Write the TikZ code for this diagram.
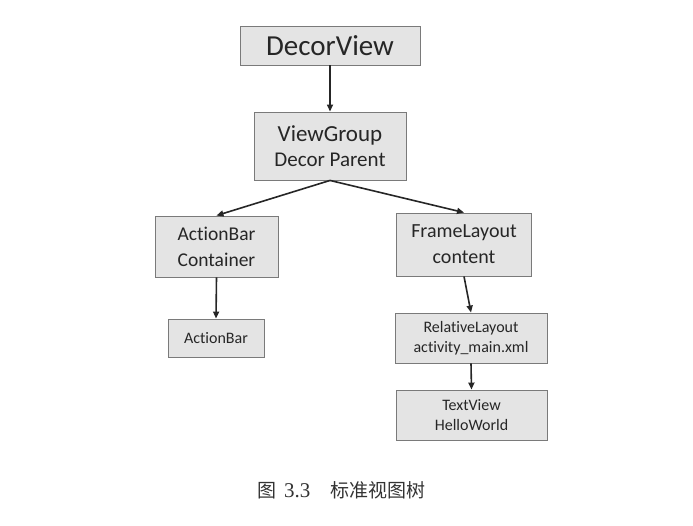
\documentclass[tikz,border=0pt]{standalone}
\usepackage{fontspec}
\setmainfont{Carlito}[Ligatures=NoCommon]
\newfontfamily\cjk{Noto Sans CJK SC}
\newfontfamily\capserif{Liberation Serif}
\usetikzlibrary{arrows.meta}
\definecolor{boxfill}{HTML}{E4E4E4}
\definecolor{boxline}{HTML}{7A7A7A}
\definecolor{txt}{HTML}{262626}
\tikzset{
  treebox/.style={draw=boxline, fill=boxfill, line width=0.9pt, text=txt, align=center, inner sep=0pt},
  conn/.style={line width=1.6pt, -{Triangle[length=7pt,width=6pt]}, black!85}
}
\begin{document}
\begin{tikzpicture}[x=1pt,y=-1pt]
\useasboundingbox (0,0) rectangle (693,526);
\node[treebox, minimum width=180pt, minimum height=39pt, font=\fontsize{29}{32}\selectfont] (dv) at (330,45.5)
  {DecorView};
\node[treebox, minimum width=152pt, minimum height=68pt, font=\fontsize{21}{25}\selectfont] (vg) at (330,146)
  {{\fontsize{23}{25}\selectfont ViewGroup}\\Decor Parent};
\node[treebox, minimum width=123pt, minimum height=61pt, font=\fontsize{19.5}{26}\selectfont] (abc) at (216.5,246.5)
  {ActionBar\\Container};
\node[treebox, minimum width=135pt, minimum height=63pt, font=\fontsize{20}{26}\selectfont] (fl) at (464,244.5)
  {FrameLayout\\content};
\node[treebox, minimum width=96pt, minimum height=38pt, font=\fontsize{16}{20}\selectfont] (ab) at (216,338)
  {ActionBar};
\node[treebox, minimum width=152pt, minimum height=50pt, font=\fontsize{16}{20}\selectfont] (rl) at (471,338)
  {RelativeLayout\\activity\_main.xml};
\node[treebox, minimum width=151pt, minimum height=50pt, font=\fontsize{16}{20}\selectfont] (tv) at (471.5,415)
  {TextView\\HelloWorld};
\draw[conn] (dv.south) -- (vg.north);
\draw[conn] (vg.south) -- (abc.north);
\draw[conn] (vg.south) -- (fl.north);
\draw[conn] (abc.south) -- (ab.north);
\draw[conn] (fl.south) -- (rl.north);
\draw[conn] (rl.south) -- (tv.north);
\node[text=black!80, inner sep=0pt, anchor=west, font=\cjk\fontsize{19}{22}\selectfont] (cap) at (257,490)
  {图\hspace{8pt}{\capserif\fontsize{21}{22}\selectfont 3.3}\hspace{20pt}标准视图树};
\end{tikzpicture}
\end{document}
